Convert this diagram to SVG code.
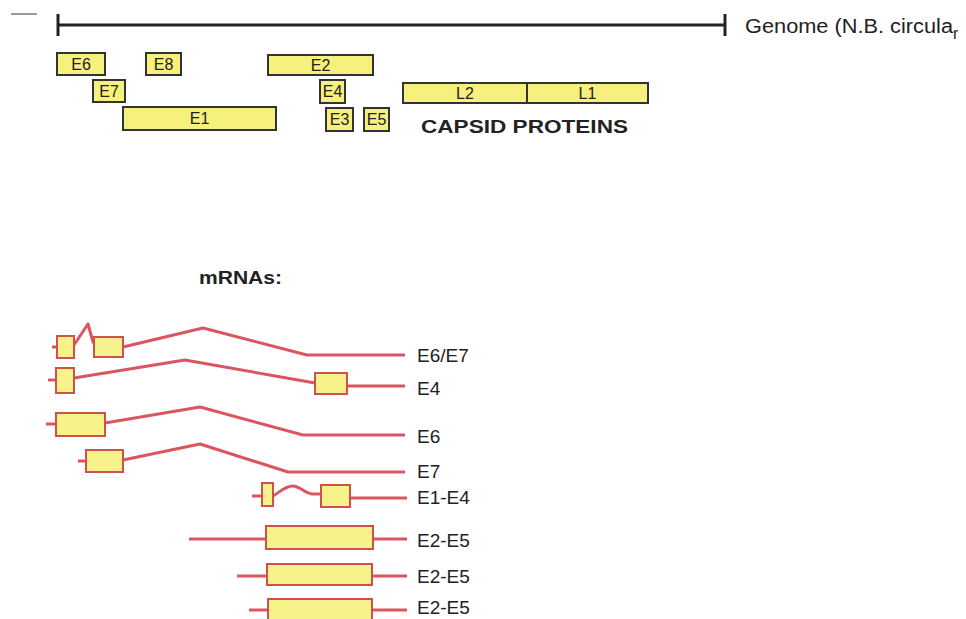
<svg xmlns="http://www.w3.org/2000/svg" width="966" height="619" viewBox="0 0 966 619">
<style>
.g{fill:#f6f07c;stroke:#333;stroke-width:2}
.m{fill:#f8f28a;stroke:#d0504c;stroke-width:2}
.ln{fill:none;stroke:#db5560;stroke-width:3;stroke-linejoin:round}
.gt{font-family:"Liberation Sans",Arial,sans-serif;font-size:16px;fill:#222;text-anchor:middle}
.lb{font-family:"Liberation Sans",Arial,sans-serif;font-size:19px;fill:#222}
.hd{font-family:"Liberation Sans",Arial,sans-serif;font-weight:bold;fill:#222}
</style>
<rect width="966" height="619" fill="#fff"/>
<line x1="11" y1="14" x2="37" y2="14" stroke="#999" stroke-width="2"/>
<g id="genome">
<line x1="58" y1="25" x2="725" y2="25" stroke="#222" stroke-width="3"/>
<line x1="58" y1="14" x2="58" y2="36" stroke="#222" stroke-width="3"/>
<line x1="725" y1="14" x2="725" y2="36" stroke="#222" stroke-width="3"/>
<text x="745" y="33" font-family="'Liberation Sans',Arial,sans-serif" font-size="20" fill="#222"><tspan textLength="208" lengthAdjust="spacingAndGlyphs">Genome (N.B. circula</tspan><tspan dy="6" font-size="16">r</tspan></text>
</g>
<g id="E6"><rect class="g" x="57" y="53" width="48" height="22"/><text class="gt" x="81" y="69.5">E6</text></g>
<g id="E8"><rect class="g" x="146" y="53" width="35" height="22"/><text class="gt" x="163.5" y="69.5">E8</text></g>
<g id="E2"><rect class="g" x="268" y="55" width="105" height="20"/><text class="gt" x="320.5" y="70.5">E2</text></g>
<g id="E7"><rect class="g" x="93" y="80" width="32" height="22"/><text class="gt" x="109" y="96.5">E7</text></g>
<g id="E4"><rect class="g" x="320" y="80" width="25" height="23"/><text class="gt" x="332.5" y="97">E4</text></g>
<g id="E1"><rect class="g" x="123" y="107" width="153" height="23"/><text class="gt" x="199.5" y="124">E1</text></g>
<g id="E3"><rect class="g" x="326" y="108" width="27" height="23"/><text class="gt" x="339.5" y="125">E3</text></g>
<g id="E5"><rect class="g" x="364" y="108" width="25" height="23"/><text class="gt" x="376.5" y="125">E5</text></g>
<g id="L2"><rect class="g" x="403" y="83" width="124" height="20"/><text class="gt" x="465" y="98.5">L2</text></g>
<g id="L1"><rect class="g" x="527" y="83" width="121" height="20"/><text class="gt" x="587.5" y="98.5">L1</text></g>
<g id="capsid"><text class="hd" x="421" y="133" font-size="18" textLength="207" lengthAdjust="spacingAndGlyphs">CAPSID PROTEINS</text></g>
<g id="mrnas-title"><text class="hd" x="199" y="284" font-size="18" textLength="83" lengthAdjust="spacingAndGlyphs">mRNAs:</text></g>
<g id="connectors">
<path class="ln" d="M52,347 H57 M74,345 L88,324 L93,342 L95,344 M123,347 L203,328 L307,355 H405"/>
<path class="ln" d="M48,380 H56 M74,378 L185,360 L315,383 M347,386 H405"/>
<path class="ln" d="M46,424 H56 M105,423 L200,407 L303,435 H405"/>
<path class="ln" d="M78,461 H86 M123,460 L200,444 L288,472 H405"/>
<path class="ln" d="M252,496 H262 M273,496 C280,492 285,486 293,486 C300,486 305,494 313,494 H321 M350,498 H407"/>
<path class="ln" d="M189,539 H266 M373,539 H407"/>
<path class="ln" d="M237,576 H267 M372,576 H407"/>
<path class="ln" d="M249,610 H268 M372,610 H407"/>
</g>
<g id="mrna-E6E7"><rect class="m" x="57" y="336" width="17" height="22"/><rect class="m" x="94" y="337" width="29" height="20"/><text class="lb" x="417" y="362">E6/E7</text></g>
<g id="mrna-E4"><rect class="m" x="56" y="368" width="18" height="25"/><rect class="m" x="315" y="373" width="32" height="21"/><text class="lb" x="417" y="395">E4</text></g>
<g id="mrna-E6"><rect class="m" x="56" y="413" width="49" height="23"/><text class="lb" x="417" y="443">E6</text></g>
<g id="mrna-E7"><rect class="m" x="86" y="450" width="37" height="22"/><text class="lb" x="417" y="478">E7</text></g>
<g id="mrna-E1E4"><rect class="m" x="262" y="483" width="11" height="23"/><rect class="m" x="321" y="485" width="29" height="22"/><text class="lb" x="417" y="504">E1-E4</text></g>
<g id="mrna-E2E5a"><rect class="m" x="266" y="526" width="107" height="23"/><text class="lb" x="417" y="547">E2-E5</text></g>
<g id="mrna-E2E5b"><rect class="m" x="267" y="564" width="105" height="21"/><text class="lb" x="417" y="583">E2-E5</text></g>
<g id="mrna-E2E5c"><rect class="m" x="268" y="599" width="104" height="22"/><text class="lb" x="417" y="614">E2-E5</text></g>
</svg>
